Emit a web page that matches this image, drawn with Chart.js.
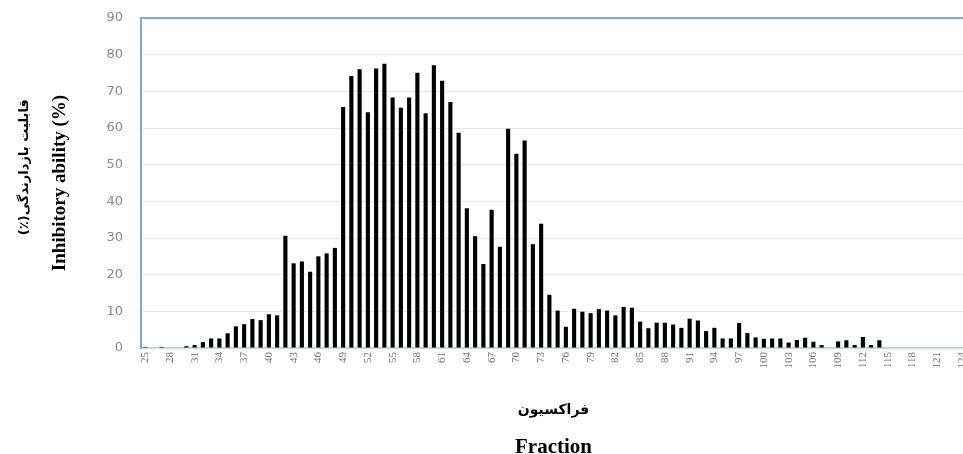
<!DOCTYPE html>
<html>
<head>
<meta charset="utf-8">
<script src="https://cdn.jsdelivr.net/npm/chart.js@4"></script>
<style>
html,body{margin:0;padding:0;background:#fff;overflow:hidden;}
#wrap{width:980px;height:460px;}
</style>
</head>
<body>
<div id="wrap"><canvas id="c" width="980" height="460"></canvas></div>
<script>
const categories = ['25','26','27','28','29','30','31','32','33','34','35','36','37','38','39','40','41','42','43','44','45','46','47','48','49','50','51','52','53','54','55','56','57','58','59','60','61','62','63','64','65','66','67','68','69','70','71','72','73','74','75','76','77','78','79','80','81','82','83','84','85','86','87','88','89','90','91','92','93','94','95','96','97','98','99','100','101','102','103','104','105','106','107','108','109','110','111','112','113','114','115','116','117','118','119','120','121','122','123','124'];
const inhibition = [0.3,0,0.3,0,0,0.5,0.8,1.6,2.6,2.6,4.0,5.9,6.5,7.9,7.6,9.2,8.9,30.6,23.1,23.6,20.8,25.0,25.8,27.3,65.7,74.2,76.0,64.3,76.2,77.5,68.3,65.5,68.3,75.1,64.0,77.1,72.9,67.1,58.7,38.1,30.5,22.9,37.7,27.6,59.8,53.0,56.6,28.3,33.9,14.5,10.2,5.8,10.7,9.9,9.5,10.6,10.2,8.9,11.2,11.0,7.2,5.4,6.9,6.9,6.4,5.5,8.0,7.5,4.6,5.5,2.6,2.6,6.8,4.1,2.9,2.5,2.6,2.6,1.5,2.2,2.8,1.7,0.8,0,1.8,2.1,0.8,3.0,0.8,2.1,0,0,0,0,0,0,0,0,0,0];
const xTickLabels = ['25','28','31','34','37','40','43','46','49','52','55','58','61','64','67','70','73','76','79','82','85','88','91','94','97','100','103','106','109','112','115','118','121','124'];
const yTickValues = [0,10,20,30,40,50,60,70,80,90];
const yTitleEn = 'Inhibitory ability (%)';
const yTitleFa = '       قابلیت بازدارندگی(٪)\u200F';
const xTitleFa = 'فراکسیون';
const xTitleEn = 'Fraction';

const frame = {
  id:'frame',
  afterDraw(chart){
    const a = chart.chartArea, ctx = chart.ctx;
    ctx.save();
    ctx.strokeStyle = '#78acdc';
    ctx.lineWidth = 2;
    ctx.beginPath();
    ctx.moveTo(a.left, a.bottom);
    ctx.lineTo(a.left, a.top);
    ctx.lineTo(a.right + 10, a.top);
    ctx.stroke();
    ctx.restore();
  }
};

new Chart(document.getElementById('c'), {
  type:'bar',
  data:{
    labels: categories,
    datasets:[{
      data: inhibition,
      backgroundColor:'#000',
      borderWidth:0,
      categoryPercentage:1.0,
      barPercentage:0.5
    }]
  },
  options:{
    responsive:false,
    animation:false,
    devicePixelRatio:1,
    layout:{padding:{top:18,right:14,left:0,bottom:0}},
    plugins:{
      legend:{display:false},
      tooltip:{enabled:false},
      title:{display:false}
    },
    scales:{
      x:{
        grid:{display:false,drawTicks:false},
        border:{display:true,color:'#b4d2ec',width:1.5},
        afterFit:function(s){s.height=77;s.paddingLeft=0;s.paddingRight=0;},
        ticks:{
          autoSkip:false,
          maxRotation:90,minRotation:90,
          padding:4,
          color:'#707070',
          font:{family:'Liberation Sans Narrow',size:11},
          callback:function(v,i){const l=categories[i];return xTickLabels.includes(l)?l:'';}
        },
        title:{
          display:true,
          text:xTitleFa,
          color:'#000',
          font:{family:'DejaVu Sans',size:14,weight:'bold'},
          padding:{top:0,bottom:6.5}
        }
      },
      x2:{
        type:'category',
        position:'bottom',
        weight:1,
        labels:categories,
        grid:{display:false,drawTicks:false},
        border:{display:false},
        ticks:{display:false},
        afterFit:function(s){s.height=35;s.paddingLeft=0;s.paddingRight=0;},
        title:{
          display:true,
          text:xTitleEn,
          color:'#000',
          font:{family:'Liberation Serif',size:21,weight:'bold'},
          padding:{top:0,bottom:0}
        }
      },
      y:{
        min:0,max:90,
        afterBuildTicks:function(s){s.ticks=yTickValues.map(v=>({value:v}));},
        afterFit:function(s){s.width=96;s.paddingTop=0;s.paddingBottom=0;},
        grid:{color:'#e6e6e6',lineWidth:1,drawTicks:false},
        border:{display:true,color:'#78acdc',width:2},
        ticks:{
          padding:18,
          color:'#8a8a8a',
          font:{family:'DejaVu Sans',size:13}
        },
        title:{
          display:true,
          text:yTitleEn,
          color:'#000',
          font:{family:'Liberation Serif',size:19,weight:'bold'},
          padding:{top:3.6,bottom:0}
        }
      },
      y2:{
        position:'left',
        weight:1,
        min:0,max:90,
        afterFit:function(s){s.width=45;s.paddingTop=0;s.paddingBottom=0;},
        grid:{display:false,drawTicks:false},
        border:{display:false},
        ticks:{display:false},
        title:{
          display:true,
          text:yTitleFa,
          color:'#000',
          font:{family:'DejaVu Sans',size:13,weight:'bold'},
          padding:{top:17,bottom:0}
        }
      }
    }
  },
  plugins:[frame]
});
</script>
</body>
</html>
